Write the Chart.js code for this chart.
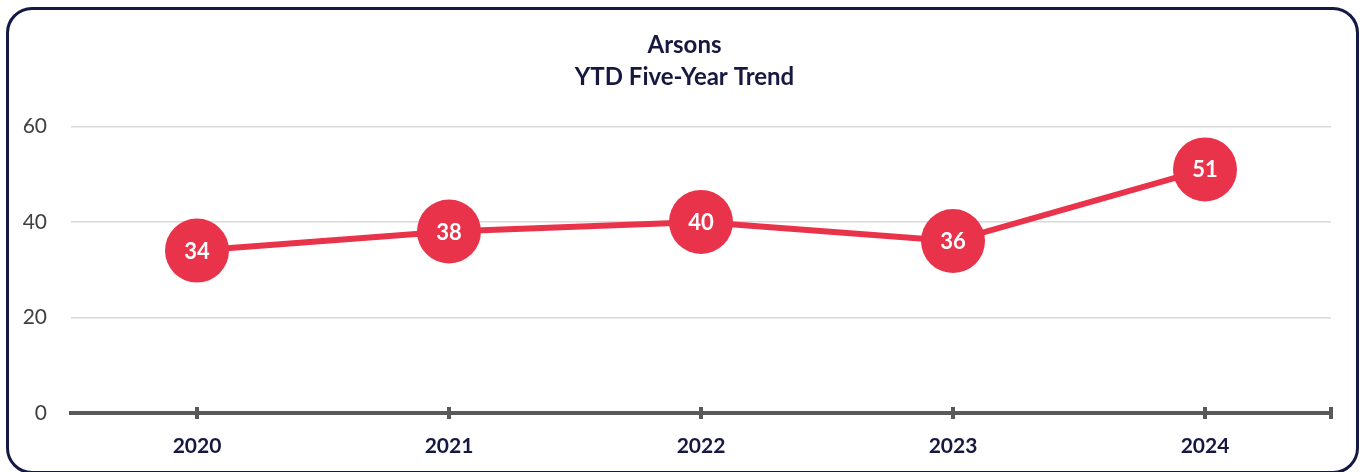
<!DOCTYPE html>
<html>
<head>
<meta charset="utf-8">
<script src="https://cdn.jsdelivr.net/npm/chart.js@4"></script>
<style>
  html, body { margin: 0; padding: 0; background: #fff; }
  .wrap { position: relative; width: 1363px; height: 472px; }
  .frame {
    position: absolute; left: 6px; top: 7px; width: 1347px; height: 461px;
    border: 3px solid #131845; border-radius: 26px; pointer-events: none;
  }
  canvas { position: absolute; left: 0; top: 0; }
</style>
</head>
<body>
<div class="wrap">
  <canvas id="trendChart" width="1363" height="472"></canvas>
  <div class="frame"></div>
</div>
<script>
// 資料
const years = ["2020", "2021", "2022", "2023", "2024"]; // 年度
const arsons = [34, 38, 40, 36, 51]; // 縱火案件數
const titleLines = ["Arsons", "YTD Five-Year Trend"];

const NAVY = "#161840";
const RED = "#e8334a";
const AXIS = "#595959";

/**
 * 在 x 軸上畫刻度（上下各伸出一點）
 */
const axisTicks = {
  id: "axisTicks",
  afterDraw(chart) {
    const ctx = chart.ctx;
    const x = chart.scales.x;
    const y0 = chart.scales.y.getPixelForValue(0);
    const xs = years.map((_, i) => x.getPixelForTick(i));
    xs.push(chart.chartArea.right);
    ctx.save();
    ctx.strokeStyle = AXIS;
    ctx.lineWidth = 4;
    xs.forEach(px => {
      ctx.beginPath();
      ctx.moveTo(px, y0 - 6);
      ctx.lineTo(px, y0 + 6);
      ctx.stroke();
    });
    ctx.restore();
  }
};

/**
 * 在圓點中央寫數值
 */
const pointLabels = {
  id: "pointLabels",
  afterDatasetsDraw(chart) {
    const ctx = chart.ctx;
    const meta = chart.getDatasetMeta(0);
    ctx.save();
    ctx.fillStyle = "#ffffff";
    ctx.font = "bold 22px Lato";
    ctx.textAlign = "center";
    ctx.textBaseline = "middle";
    meta.data.forEach((pt, i) => {
      ctx.fillText(String(arsons[i]), pt.x, pt.y + 1);
    });
    ctx.restore();
  }
};

new Chart(document.getElementById("trendChart").getContext("2d"), {
  type: "line",
  data: {
    labels: years,
    datasets: [{
      data: arsons,
      borderColor: RED,
      borderWidth: 6,
      backgroundColor: RED,
      pointBackgroundColor: RED,
      pointBorderWidth: 0,
      pointRadius: 32,
      pointHoverRadius: 32,
      tension: 0
    }]
  },
  options: {
    responsive: false,
    animation: false,
    layout: { padding: { left: 18, right: 12, top: 0, bottom: 0 } },
    plugins: {
      legend: { display: false },
      tooltip: { enabled: false },
      title: {
        display: true,
        text: titleLines,
        color: NAVY,
        font: { family: "Lato", size: 24, weight: "bold", lineHeight: 1.3 },
        padding: { top: 30, bottom: 34 }
      }
    },
    scales: {
      x: {
        offset: true,
        grid: { display: false, drawTicks: false },
        border: { color: AXIS, width: 4 },
        ticks: {
          color: NAVY,
          padding: 21,
          font: { family: "Lato", size: 21, weight: "bold" }
        },
        afterFit(scale) { scale.height = 59; }
      },
      y: {
        min: 0,
        max: 60,
        ticks: {
          stepSize: 20,
          color: "#404040",
          padding: 24,
          font: { family: "Lato", size: 21 }
        },
        grid: { color: "#d9d9d9", lineWidth: 1.5, drawTicks: false },
        border: { display: false },
        afterFit(scale) { scale.width = 53; }
      },
      // 右側留白用
      yRight: {
        position: "right",
        min: 0,
        max: 60,
        ticks: { display: false },
        grid: { display: false, drawTicks: false },
        border: { display: false },
        afterFit(scale) { scale.width = 18; }
      }
    }
  },
  plugins: [axisTicks, pointLabels]
});
</script>
</body>
</html>
